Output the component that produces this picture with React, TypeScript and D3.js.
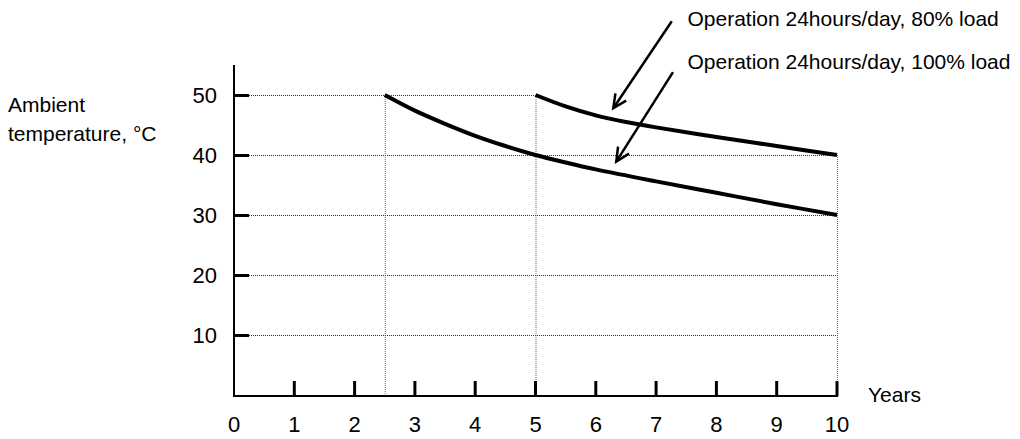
import React from 'react';
import * as d3 from 'd3';

// x-axis: years, y-axis: ambient temperature (°C)
const xTicks = [0, 1, 2, 3, 4, 5, 6, 7, 8, 9, 10];
const yTicks = [10, 20, 30, 40, 50];

// Operation 24hours/day, 100% load
const full = [
  { year: 2.5, temp: 50 },
  { year: 3, temp: 47.4 },
  { year: 3.5, temp: 45.2 },
  { year: 4, temp: 43.2 },
  { year: 4.5, temp: 41.5 },
  { year: 5, temp: 40 },
  { year: 5.5, temp: 38.75 },
  { year: 6, temp: 37.6 },
  { year: 7, temp: 35.6 },
  { year: 8, temp: 33.7 },
  { year: 9, temp: 31.8 },
  { year: 10, temp: 30 },
];

// Operation 24hours/day, 80% load
const partial = [
  { year: 5, temp: 50 },
  { year: 5.5, temp: 48.1 },
  { year: 6, temp: 46.6 },
  { year: 6.5, temp: 45.5 },
  { year: 7, temp: 44.6 },
  { year: 8, temp: 43.0 },
  { year: 9, temp: 41.5 },
  { year: 10, temp: 40 },
];

// annotation arrows, in data units: label, start, tip
const notes = [
  { label: 'Operation 24hours/day, 80% load', from: [7.26, 62.3], to: [6.29, 47.8], text: [7.52, 62.8] },
  { label: 'Operation 24hours/day, 100% load', from: [7.28, 53.8], to: [6.34, 38.9], text: [7.52, 55.5] },
];

const W = 1020;
const H = 439;
const FONT = '"Liberation Sans", Arial, sans-serif';

const x = d3.scaleLinear().domain([0, 10]).range([234, 837]);
const y = d3.scaleLinear().domain([0, 50]).range([395, 95]);

type Pt = { year: number; temp: number };

export default function App() {
  const line = d3
    .line<Pt>()
    .x((d) => x(d.year))
    .y((d) => y(d.temp))
    .curve(d3.curveCatmullRom);

  const grid = '#333';
  const dash = '1 1';

  const arrowHead = (fx: number, fy: number, tx: number, ty: number) => {
    const ang = Math.atan2(ty - fy, tx - fx);
    const len = 15;
    const spread = Math.PI / 7;
    const a1 = ang + Math.PI - spread;
    const a2 = ang + Math.PI + spread;
    return `M${tx + len * Math.cos(a1)},${ty + len * Math.sin(a1)}L${tx},${ty}L${tx + len * Math.cos(a2)},${ty + len * Math.sin(a2)}`;
  };

  return (
    <div style={{ position: 'fixed', left: 0, top: 0, width: W, height: H, background: '#fff' }}>
      <svg width={W} height={H} style={{ display: 'block' }} fontFamily={FONT}>
        {/* horizontal dotted grid */}
        {yTicks.map((t) => (
          <line
            key={'g' + t}
            x1={x(0) + 15}
            x2={t === 50 ? x(5) : x(10)}
            y1={y(t) + 0.5}
            y2={y(t) + 0.5}
            stroke={grid}
            strokeWidth={1}
            strokeDasharray={dash}
          />
        ))}
        {/* vertical dotted guides */}
        {[
          { yr: 2.5, top: 50 },
          { yr: 5, top: 50 },
          { yr: 10, top: 40 },
        ].map((v) => (
          <line
            key={'v' + v.yr}
            x1={x(v.yr) + 0.5}
            x2={x(v.yr) + 0.5}
            y1={y(v.top)}
            y2={y(0)}
            stroke="#666"
            strokeWidth={1}
            strokeDasharray={dash}
          />
        ))}

        {/* axes */}
        <line x1={x(0)} x2={x(0)} y1={65} y2={y(0) + 1} stroke="#000" strokeWidth={2} />
        <line x1={x(0) - 1} x2={x(10) + 1} y1={y(0) + 1} y2={y(0) + 1} stroke="#000" strokeWidth={2} />
        {yTicks.map((t) => (
          <line key={'yt' + t} x1={x(0)} x2={x(0) + 15} y1={y(t) + 0.5} y2={y(t) + 0.5} stroke="#000" strokeWidth={3} />
        ))}
        {xTicks.slice(1).map((t) => (
          <line key={'xt' + t} x1={x(t)} x2={x(t)} y1={y(0) + 1} y2={y(0) - 14} stroke="#000" strokeWidth={3} />
        ))}

        {/* tick labels */}
        {yTicks.map((t) => (
          <text key={'yl' + t} x={x(0) - 17} y={y(t)} dy="0.35em" textAnchor="end" fontSize={22}>
            {t}
          </text>
        ))}
        {xTicks.map((t) => (
          <text key={'xl' + t} x={x(t)} y={424} dy="0.35em" textAnchor="middle" fontSize={22}>
            {t}
          </text>
        ))}
        <text x={868} y={395} dy="0.35em" fontSize={21}>
          Years
        </text>
        <text x={8} y={105} dy="0.35em" fontSize={21}>
          Ambient
        </text>
        <text x={8} y={134} dy="0.35em" fontSize={21}>
          temperature, °C
        </text>

        {/* curves */}
        <path d={line(full) ?? ''} fill="none" stroke="#000" strokeWidth={4} />
        <path d={line(partial) ?? ''} fill="none" stroke="#000" strokeWidth={4} />

        {/* annotations */}
        {notes.map((n) => {
          const fx = x(n.from[0]);
          const fy = y(n.from[1]);
          const tx = x(n.to[0]);
          const ty = y(n.to[1]);
          return (
            <g key={n.label}>
              <line x1={fx} y1={fy} x2={tx} y2={ty} stroke="#000" strokeWidth={2.5} />
              <path d={arrowHead(fx, fy, tx, ty)} fill="none" stroke="#000" strokeWidth={2.5} />
              <text x={x(n.text[0])} y={y(n.text[1])} dy="0.35em" fontSize={21}>
                {n.label}
              </text>
            </g>
          );
        })}
      </svg>
    </div>
  );
}
